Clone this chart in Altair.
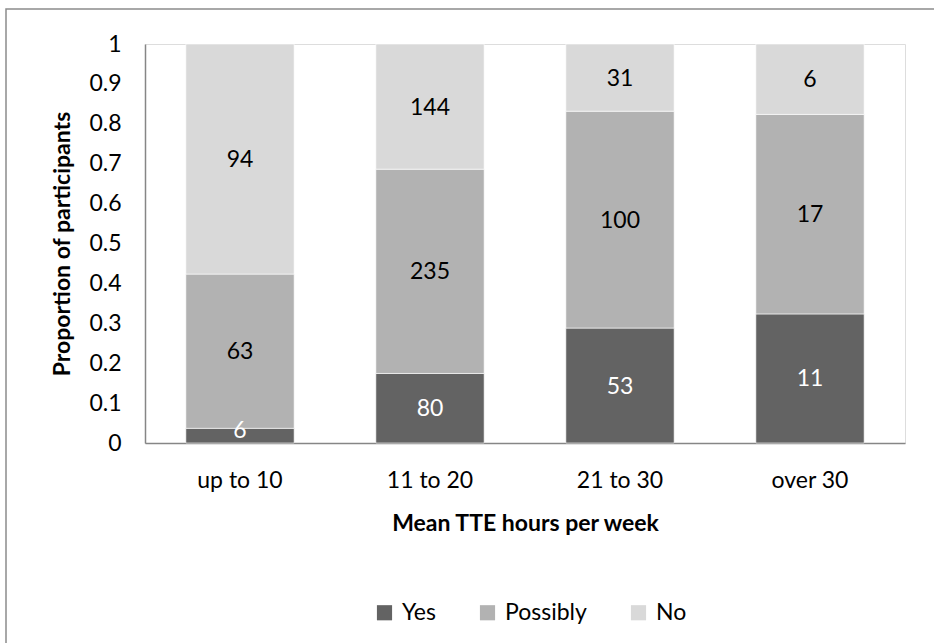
import altair as alt
import pandas as pd

# Participants grouped by mean TTE hours per week and by response
categories = ["up to 10", "11 to 20", "21 to 30", "over 30"]
responses = ["Yes", "Possibly", "No"]
yes_counts = [6, 80, 53, 11]
possibly_counts = [63, 235, 100, 17]
no_counts = [94, 144, 31, 6]
y_ticks = [0, 0.1, 0.2, 0.3, 0.4, 0.5, 0.6, 0.7, 0.8, 0.9, 1]

colors = ["#636363", "#b2b2b2", "#d9d9d9"]
label_colors = ["white", "black", "black"]

rows = []
for i, cat in enumerate(categories):
    for j, (resp, counts) in enumerate(zip(responses, [yes_counts, possibly_counts, no_counts])):
        rows.append({"cat": cat, "resp": resp, "count": counts[i], "order": j,
                     "lab_color": label_colors[j]})
df = pd.DataFrame(rows)

FONT = "Lato"
FS = 23
W, H = 760, 399

x_axis = alt.Axis(title="Mean TTE hours per week", labelAngle=0, ticks=False,
                  domainColor="#868686", domainWidth=1.5,
                  labelFontSize=FS, labelColor="black", labelPadding=26,
                  titleFontSize=FS, titleFontWeight="bold", titleColor="black",
                  titlePadding=20, labelFont=FONT, titleFont=FONT)
y_axis = alt.Axis(title="Proportion of participants",
                  values=y_ticks,
                  labelExpr="datum.value == 0 ? '0' : datum.value == 1 ? '1' : format(datum.value, '.1f')",
                  labelOverlap=False,
                  grid=False, ticks=False, domainColor="#868686", domainWidth=1.5,
                  labelFontSize=FS, labelColor="black", labelPadding=24,
                  titleFontSize=FS, titleFontWeight="bold", titleColor="black",
                  titlePadding=14, labelFont=FONT, titleFont=FONT)
x_scale = alt.Scale(paddingInner=0.43, paddingOuter=0.215)
y_scale = alt.Scale(domain=[0, 1], nice=False)

base = alt.Chart(df).transform_stack(
    stack="count", groupby=["cat"], as_=["y0", "y1"], offset="normalize",
    sort=[alt.SortField("order", order="ascending")],
)

bars = base.mark_bar(stroke="white", strokeWidth=0.6).encode(
    x=alt.X("cat:N", sort=categories, scale=x_scale, axis=x_axis),
    y=alt.Y("y0:Q", scale=y_scale, axis=y_axis),
    y2="y1:Q",
    color=alt.Color("resp:N", sort=responses,
                    scale=alt.Scale(domain=responses, range=colors),
                    legend=alt.Legend(title=None, orient="none", direction="horizontal",
                                      legendX=228, legendY=557,
                                      symbolType="square", symbolSize=230,
                                      symbolStrokeWidth=0, labelFontSize=FS,
                                      labelFont=FONT, labelColor="black",
                                      columnPadding=40, labelOffset=6)),
)

# Count labels centred in each segment, kept clear of the baseline
labels = base.transform_calculate(
    mid="max((datum.y0 + datum.y1) / 2, 0.033)"
).mark_text(fontSize=FS, font=FONT, baseline="middle", dy=1).encode(
    x=alt.X("cat:N", sort=categories, scale=x_scale, axis=x_axis),
    y=alt.Y("mid:Q", scale=y_scale, axis=y_axis),
    text="count:Q",
    color=alt.Color("lab_color:N", scale=None, legend=None),
)

# Outer frame around the whole figure
frame = alt.Chart(pd.DataFrame({"k": [0]})).mark_rect(
    fill=None, stroke="#8c8c8c", strokeWidth=1.5
).encode(x=alt.value(-139), x2=alt.value(800), y=alt.value(-35), y2=alt.value(620))

chart = alt.layer(frame, bars, labels).properties(
    width=W, height=H,
    padding={"left": 145, "top": 44, "right": 29, "bottom": 200},
    autosize=alt.AutoSizeParams(type="none"),
).configure_view(stroke="transparent", strokeOpacity=0, strokeWidth=0).configure(background="white")

chart.save("out.html", embed_options={"renderer": "svg", "actions": False})
